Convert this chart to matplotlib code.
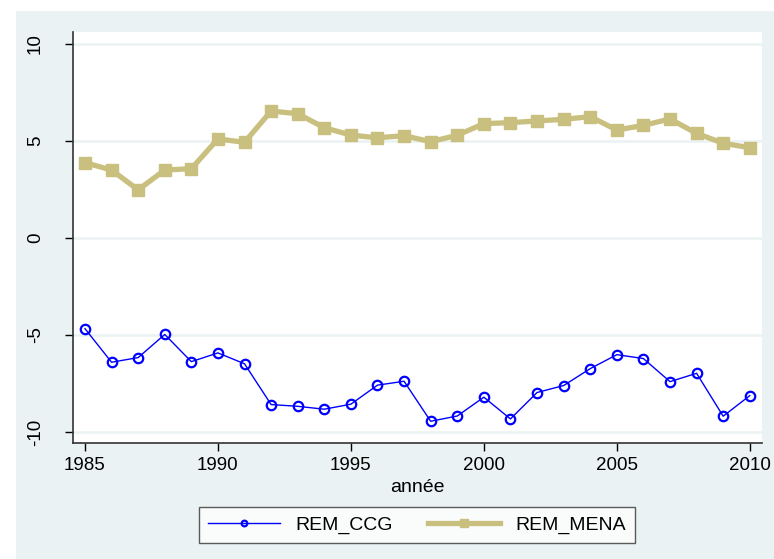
import matplotlib
matplotlib.use("Agg")
import matplotlib.pyplot as plt
from matplotlib.patches import Rectangle

years = list(range(1985, 2011))
rem_ccg = [-4.68, -6.41, -6.17, -4.98, -6.38, -5.93, -6.49, -8.59, -8.68, -8.83,
           -8.57, -7.59, -7.39, -9.45, -9.18, -8.21, -9.33, -7.97, -7.61, -6.74,
           -6.02, -6.22, -7.41, -6.98, -9.19, -8.13]
rem_mena = [3.87, 3.49, 2.47, 3.49, 3.56, 5.09, 4.92, 6.53, 6.39, 5.67,
            5.29, 5.15, 5.26, 4.95, 5.28, 5.88, 5.93, 6.02, 6.10, 6.24,
            5.55, 5.79, 6.12, 5.38, 4.87, 4.64]
xticks = [1985, 1990, 1995, 2000, 2005, 2010]
yticks = [-10, -5, 0, 5, 10]

plt.rcParams['font.family'] = ['Liberation Sans', 'DejaVu Sans']
W, H = 774, 559
fig = plt.figure(figsize=(W / 100, H / 100), dpi=100)
fig.patch.set_facecolor('white')
bg = '#EAF2F3'
fig.patches.append(Rectangle((16 / W, 0), 1 - 16 / W, 1 - 11 / H,
                             transform=fig.transFigure, facecolor=bg,
                             edgecolor='none', zorder=-10))

ax = fig.add_axes([73 / W, 1 - 443 / H, (762 - 73) / W, (443 - 32) / H])
ax.set_facecolor('white')

for y in yticks:
    ax.axhline(y, color=bg, lw=1.8, zorder=0)

ax.plot(years, rem_ccg, color='#0000FF', lw=1.0, marker='o', ms=6.8,
        mfc='none', mec='#0000FF', mew=1.6, label='REM_CCG', zorder=3)
ax.plot(years, rem_mena, color='#C9BF7F', lw=3.8, marker='s', ms=8.5,
        mfc='#C9BF7F', mec='#C9BF7F', label='REM_MENA', zorder=2)

ax.set_xlim(1984.55, 2010.46)
ax.set_ylim(-10.57, 10.6)
ax.set_xticks(xticks)
ax.set_yticks(yticks)
ax.set_xticklabels([str(x) for x in xticks], fontsize=13.5)
ax.set_yticklabels([str(y) for y in yticks], fontsize=13.5, rotation=90, va='center')
ax.tick_params(direction='out', length=6, width=1, colors='black')
ax.tick_params(axis='y', pad=15)
ax.tick_params(axis='x', pad=4)
for s in ['top', 'right']:
    ax.spines[s].set_visible(False)
for s in ['left', 'bottom']:
    ax.spines[s].set_color('#333333')
    ax.spines[s].set_linewidth(1.2)

ax.set_xlabel('année', fontsize=14, labelpad=4)

leg = fig.legend(loc='center', bbox_to_anchor=(417 / W, 1 - 525 / H), ncol=2,
                 fontsize=14, frameon=True, fancybox=False, edgecolor='#333333',
                 numpoints=1, markerscale=0.6, handlelength=3.7, columnspacing=1.8,
                 borderpad=0.45, handletextpad=0.8, borderaxespad=0)
leg.get_frame().set_linewidth(1.0)

fig.savefig('out.png', dpi=100, facecolor=fig.get_facecolor())
